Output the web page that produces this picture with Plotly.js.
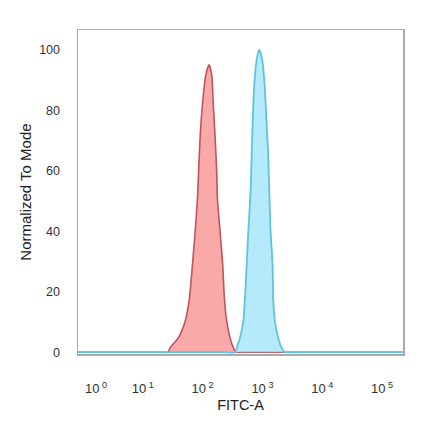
<!DOCTYPE html>
<html>
<head>
<meta charset="utf-8">
<script src="https://cdn.plot.ly/plotly-3.0.1.min.js"></script>
<style>html,body{margin:0;padding:0;background:#fff;}#chart{width:440px;height:441px;}</style>
</head>
<body>
<div id="chart"></div>
<script>
// FITC-A intensity (x) and Normalized To Mode (y)
const redFITC = [0.8, 3, 10, 18, 26.6, 28.7, 39.5, 51.1, 60.3, 67.6, 75.0, 81.9, 85.8, 90.8, 99.3, 113, 128, 142, 151, 162, 172, 177, 196, 217, 231, 253, 287, 326, 362, 500, 2000, 10000, 50000, 250000];
const redMode = [0, 0, 0, 0, 0, 1.5, 4.8, 10.2, 17.9, 28.8, 39.7, 50.7, 59.9, 70.9, 81.8, 91.6, 95, 91.6, 81.8, 70.9, 59.9, 50.7, 39.7, 28.8, 17.9, 10.2, 4.8, 1.5, 0, 0, 0, 0, 0, 0];

const blueFITC = [0.8, 3, 10, 50, 200, 348, 372, 422, 479, 511, 545, 580, 636, 661, 687, 722, 800, 885, 993, 1101, 1175, 1250, 1298, 1371, 1479, 1514, 1616, 1833, 2089, 2371, 3500, 10000, 50000, 250000];
const blueMode = [0, 0, 0, 0, 0, 0, 1.5, 4.8, 10.2, 17.9, 28.8, 39.7, 53.9, 64.9, 75.8, 86.7, 96.6, 100, 96.6, 86.7, 75.8, 64.9, 53.9, 39.7, 28.8, 17.9, 10.2, 4.8, 1.5, 0, 0, 0, 0, 0];

const xTickDecades = [0, 1, 2, 3, 4, 5];
const xTickLabels = ["10<sup> 0</sup>", "10<sup> 1</sup>", "10<sup> 2</sup>", "10<sup> 3</sup>", "10<sup> 4</sup>", "10<sup> 5</sup>"];
const yTickVals = [0, 20, 40, 60, 80, 100];

// biexponential display compresses the first decade (10^0 sits closer to 10^1)
const lowDecadeScale = 0.78;
function displayDecade(d) { return d >= 1 ? d : 1 - (1 - d) * lowDecadeScale; }
const xTickVals = xTickDecades.map(d => Math.pow(10, displayDecade(d)));

const font = "Liberation Sans, Arial, sans-serif";

const traces = [
  {
    x: redFITC, y: redMode, type: 'scatter', mode: 'lines',
    line: {color: '#c4525a', width: 1.6, shape: 'spline', smoothing: 0.6},
    fill: 'tozeroy', fillcolor: 'rgba(248,140,140,0.75)', hoverinfo: 'skip'
  },
  {
    x: blueFITC, y: blueMode, type: 'scatter', mode: 'lines',
    line: {color: '#5ec4e0', width: 1.8, shape: 'spline', smoothing: 0.6},
    fill: 'tozeroy', fillcolor: 'rgba(150,225,248,0.7)', hoverinfo: 'skip'
  }
];

const layout = {
  width: 440, height: 441,
  margin: {l: 77.5, r: 36.5, t: 29.5, b: 86.5},
  paper_bgcolor: '#ffffff', plot_bgcolor: '#ffffff',
  showlegend: false,
  font: {family: font, color: '#333333', size: 12},
  xaxis: {
    type: 'log', range: [-0.083, 5.35],
    tickmode: 'array', tickvals: xTickVals, ticktext: xTickLabels,
    ticks: '', showgrid: false, zeroline: false,
    showline: true, linecolor: '#aaaaaa', linewidth: 1.5, mirror: true,
    layer: 'below traces',
    ticklabelstandoff: 22,
    tickfont: {family: font, size: 13, color: '#333333'},
    title: {text: 'FITC-A', font: {family: font, size: 14.5, color: '#222222'}, standoff: 5}
  },
  yaxis: {
    range: [-0.6, 106.5],
    tickmode: 'array', tickvals: yTickVals,
    ticks: '', showgrid: false, zeroline: false,
    showline: true, linecolor: '#aaaaaa', linewidth: 1.5, mirror: true,
    layer: 'below traces',
    ticklabelstandoff: 14,
    tickfont: {family: font, size: 12.5, color: '#333333'},
    title: {text: 'Normalized To Mode', font: {family: font, size: 15, color: '#222222'}, standoff: 4}
  }
};

Plotly.newPlot('chart', traces, layout, {displayModeBar: false, staticPlot: true});
</script>
</body>
</html>
